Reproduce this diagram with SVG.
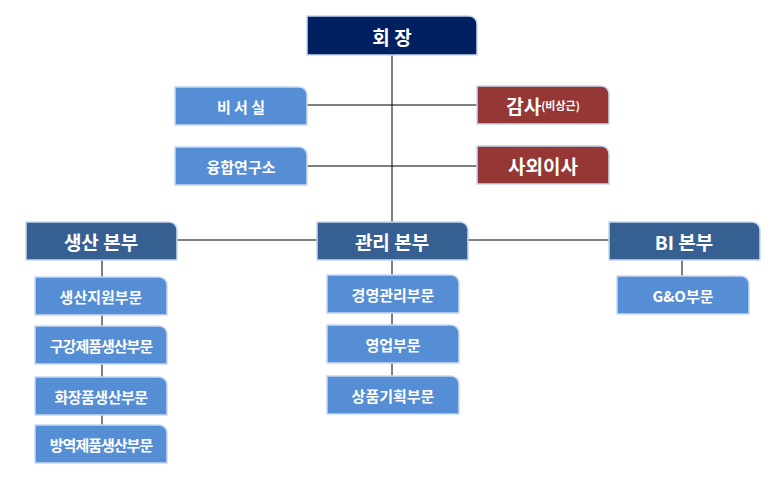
<svg xmlns="http://www.w3.org/2000/svg" width="783" height="480" viewBox="0 0 783 480">
<style>
text{font-family:"Noto Sans CJK KR",sans-serif;font-weight:bold;fill:#fff;text-anchor:middle;dominant-baseline:central}
.top{fill:#002060}.lt{fill:#558ed5}.red{fill:#953735}.hq{fill:#376092}
path{stroke:#c6d9f1;stroke-width:1.5}
.c line{stroke:#000;stroke-width:1}
.s{font-size:15px}.b{font-size:19px}
</style>
<defs>
<path id="big" d="M0,0H162a8,8 0 0 1 8,8V39H0Z"/>
<path id="mid" d="M0,0H143a8,8 0 0 1 8,8V38H0Z"/>
<path id="sm" d="M0,0H124a8,8 0 0 1 8,8V38H0Z"/>
</defs>
<g class="c">
<line x1="392" y1="55" x2="392" y2="222"/>
<line x1="307" y1="105" x2="477" y2="105"/>
<line x1="307" y1="166" x2="477" y2="166"/>
<line x1="177" y1="240" x2="609" y2="240"/>
<line x1="102" y1="260" x2="102" y2="425"/>
<line x1="392" y1="260" x2="392" y2="376"/>
<line x1="682" y1="260" x2="682" y2="276"/>
</g>
<g id="chair"><use href="#big" x="307" y="16" class="top"/><text x="392" y="36" class="b">회    장</text></g>
<g id="secretary"><use href="#sm" x="175" y="87" class="lt"/><text x="241" y="106" class="s">비 서 실</text></g>
<g id="research"><use href="#sm" x="175" y="147" class="lt"/><text x="241" y="166" class="s">융합연구소</text></g>
<g id="audit"><use href="#sm" x="477" y="86" class="red"/><text x="543" y="105"><tspan font-size="19">감사</tspan><tspan font-size="11">(비상근)</tspan></text></g>
<g id="outside"><use href="#sm" x="477" y="146" class="red"/><text x="543" y="165" class="b">사외이사</text></g>
<g id="prod"><use href="#mid" x="26" y="222" class="hq"/><text x="101" y="241" class="b">생산 본부</text></g>
<g id="mgmt"><use href="#mid" x="317" y="222" class="hq"/><text x="392" y="241" class="b">관리 본부</text></g>
<g id="bi"><use href="#mid" x="609" y="222" class="hq"/><text x="684" y="241" class="b">BI 본부</text></g>
<g id="p1"><use href="#sm" x="35" y="277" class="lt"/><text x="101" y="296" class="s">생산지원부문</text></g>
<g id="p2"><use href="#sm" x="35" y="326" class="lt"/><text x="101" y="345" class="s" letter-spacing="-1">구강제품생산부문</text></g>
<g id="p3"><use href="#sm" x="35" y="377" class="lt"/><text x="101" y="396" class="s" letter-spacing="-0.5">화장품생산부문</text></g>
<g id="p4"><use href="#sm" x="35" y="425" class="lt"/><text x="101" y="444" class="s" letter-spacing="-1">방역제품생산부문</text></g>
<g id="m1"><use href="#sm" x="327" y="275" class="lt"/><text x="393" y="294" class="s">경영관리부문</text></g>
<g id="m2"><use href="#sm" x="327" y="325" class="lt"/><text x="393" y="344" class="s">영업부문</text></g>
<g id="m3"><use href="#sm" x="327" y="376" class="lt"/><text x="393" y="395" class="s">상품기획부문</text></g>
<g id="go"><use href="#sm" x="617" y="276" class="lt"/><text x="683" y="295" class="s">G&amp;O부문</text></g>
</svg>
